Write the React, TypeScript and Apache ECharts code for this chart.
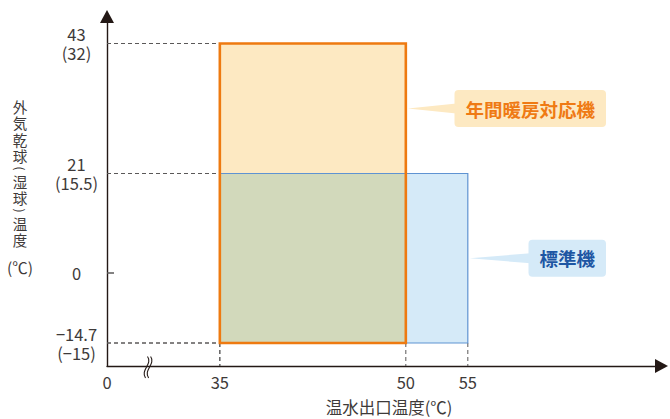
import React, { useEffect, useRef } from 'react';
import * as echarts from 'echarts';

// ---- data ----
const seriesNames = ['標準機', '年間暖房対応機'];
const xStart = [35, 35];
const xEnd = [55, 50];
const yLow = [-14.7, -14.7];
const yHigh = [21, 43];
const xTicks = [0, 35, 50, 55];
const xTickLabels = ['0', '35', '50', '55'];
const yTicks = [-14.7, 0, 21, 43];
const yTickLabels = ['−14.7\n(−15)', '0', '21\n(15.5)', '43\n(32)'];
const xAxisName = '温水出口温度(℃)';
const yAxisNameParts = ['外気乾球', '(', '湿球', ')', '温度'];
const yAxisUnit = '(℃)';

// ---- axis scales (schematic, piecewise) ----
const xScaleStops: [number, number][] = [[0, 25.9], [35, 35], [55, 55]];
const yScaleStops: [number, number][] = [[-14.7, 23], [0, 93], [21, 192.5], [43, 322.5]];
const X_MIN = 25.9;
const X_MAX = 70.62;
const Y_MIN = 0;
const Y_MAX = 349.5;

function warp(stops: [number, number][], v: number) {
  let i = 0;
  while (i < stops.length - 2 && v > stops[i + 1][0]) i++;
  const [a0, b0] = stops[i];
  const [a1, b1] = stops[i + 1];
  return b0 + ((v - a0) * (b1 - b0)) / (a1 - a0);
}
const wx = (v: number) => warp(xScaleStops, v);
const wy = (v: number) => warp(yScaleStops, v);

const FONT = "'Noto Sans CJK JP', 'Noto Sans', sans-serif";
const fills = ['#d5eaf8', '#fde9c2'];
const strokes = ['#5f93d2', '#ee7a10'];
const strokeWidths = [1.2, 2.6];
const textColors = ['#1d56a3', '#ef7a14'];
const overlapColor = '#d2d9bb';
const axisColor = '#231815';
const guideColor = '#5a5858';
const labelColor = '#3e3a39';

export default function App() {
  const ref = useRef<HTMLDivElement>(null);
  useEffect(() => {
    if (!ref.current) return;
    const chart = echarts.init(ref.current, undefined, { renderer: 'svg' });

    const rectData = seriesNames.map((_, i) => [wx(xStart[i]), wx(xEnd[i]), wy(yLow[i]), wy(yHigh[i]), i]);
    const ox0 = Math.max(...xStart), ox1 = Math.min(...xEnd);
    const oy0 = Math.max(...yLow), oy1 = Math.min(...yHigh);
    const overlapData = [[wx(ox0), wx(ox1), wy(oy0), wy(oy1)]];

    const calloutData = seriesNames.map((_, i) => {
      let lower = yLow[i];
      yHigh.forEach((h, j) => {
        if (j !== i && h < yHigh[i] && h > lower) lower = h;
      });
      return [wx(xEnd[i]), wy(lower), wy(yHigh[i]), i];
    });

    const rectRender = (mode: 'fill' | 'stroke' | 'overlap') => (params: any, api: any) => {
      const p0 = api.coord([api.value(0), api.value(2)]);
      const p1 = api.coord([api.value(1), api.value(3)]);
      const i = api.value(4);
      const shape = { x: p0[0], y: p1[1], width: p1[0] - p0[0], height: p0[1] - p1[1] };
      if (mode === 'overlap') return { type: 'rect', shape, style: { fill: overlapColor } };
      if (mode === 'fill') return { type: 'rect', shape, style: { fill: fills[i] } };
      return {
        type: 'rect',
        shape,
        z2: i,
        style: { fill: 'none', stroke: strokes[i], lineWidth: strokeWidths[i] },
      };
    };

    const guideRender = (params: any, api: any) => {
      const x0 = api.value(0), x1 = api.value(1), y0 = api.value(2), y1 = api.value(3);
      const axisX = api.coord([X_MIN, y0])[0];
      const axisY = api.coord([x0, Y_MIN])[1];
      const pTL = api.coord([x0, y1]);
      const pBL = api.coord([x0, y0]);
      const pBR = api.coord([x1, y0]);
      const ls = { stroke: guideColor, lineWidth: 1, lineDash: [4, 3] };
      return {
        type: 'group',
        children: [
          { type: 'line', shape: { x1: axisX, y1: pTL[1], x2: pTL[0], y2: pTL[1] }, style: ls },
          { type: 'line', shape: { x1: axisX, y1: pBL[1], x2: pBL[0], y2: pBL[1] }, style: ls },
          { type: 'line', shape: { x1: pBL[0], y1: pBL[1], x2: pBL[0], y2: axisY }, style: ls },
          { type: 'line', shape: { x1: pBR[0], y1: pBR[1], x2: pBR[0], y2: axisY }, style: ls },
        ],
      };
    };

    const calloutRender = (params: any, api: any) => {
      const i = api.value(3);
      const pLo = api.coord([api.value(0), api.value(1)]);
      const pHi = api.coord([api.value(0), api.value(2)]);
      const tipX = pLo[0] + 2;
      const tipY = (pLo[1] + pHi[1]) / 2;
      const fs = 18.5;
      const pad = 11;
      const name = seriesNames[i];
      const w = name.length * fs + pad * 2;
      const boxRight = 606;
      const boxLeft = boxRight - w;
      const h = 37;
      return {
        type: 'group',
        children: [
          {
            type: 'polygon',
            shape: { points: [[tipX, tipY], [boxLeft + 2, tipY - 5], [boxLeft + 2, tipY + 5]] },
            style: { fill: fills[i] },
          },
          {
            type: 'rect',
            shape: { x: boxLeft, y: tipY - h / 2, width: w, height: h, r: 4 },
            style: { fill: fills[i] },
          },
          {
            type: 'text',
            x: boxLeft + w / 2,
            y: tipY,
            style: {
              text: name,
              fill: textColors[i],
              font: `bold ${fs}px ${FONT}`,
              align: 'center',
              verticalAlign: 'middle',
            },
          },
        ],
      };
    };

    const yCustom = yTicks.map(wy);
    const xCustom = xTicks.map(wx);
    const findLabel = (vals: number[], labels: string[], v: number) => {
      const k = vals.findIndex((t) => Math.abs(t - v) < 1e-6);
      return k >= 0 ? labels[k] : '';
    };

    // vertical y-axis name: character blocks stacked; parentheses turned to vertical form
    const yNameEls: any[] = [];
    const rowH = 16.5;
    const parenH = 9;
    const nameFs = 14.5;
    let cy = 98;
    yAxisNameParts.forEach((part) => {
      const isParen = part === '(' || part === ')';
      if (isParen) {
        yNameEls.push({
          type: 'text',
          x: 20,
          y: cy + parenH / 2,
          rotation: -Math.PI / 2,
          style: {
            text: part,
            align: 'center',
            verticalAlign: 'middle',
            fill: labelColor,
            font: `12px ${FONT}`,
            lineHeight: 9,
          },
        });
        cy += parenH;
      } else {
        const chars = part.split('');
        yNameEls.push({
          type: 'text',
          x: 20,
          y: cy,
          style: {
            text: chars.map((c) => `{c|${c}}`).join('\n'),
            align: 'center',
            verticalAlign: 'top',
            fill: labelColor,
            font: `${nameFs}px ${FONT}`,
            rich: {
              c: { fontSize: nameFs, lineHeight: rowH, fontFamily: FONT, fill: labelColor },
            },
          },
        });
        cy += chars.length * rowH;
      }
    });

    chart.setOption({
      animation: false,
      grid: { left: 107, right: 8.5, top: 16.5, bottom: 53, containLabel: false },
      xAxis: {
        type: 'value',
        min: X_MIN,
        max: X_MAX,
        splitLine: { show: false },
        axisLine: {
          show: true,
          symbol: ['none', 'triangle'],
          symbolSize: [14, 13],
          lineStyle: { color: axisColor, width: 1.4 },
        },
        axisTick: { show: false },
        axisLabel: {
          customValues: xCustom,
          formatter: (v: number) => findLabel(xCustom, xTickLabels, v),
          color: labelColor,
          fontSize: 16.5,
          fontFamily: FONT,
          margin: 8,
        },
      },
      yAxis: {
        type: 'value',
        min: Y_MIN,
        max: Y_MAX,
        splitLine: { show: false },
        axisLine: {
          show: true,
          symbol: ['none', 'triangle'],
          symbolSize: [14, 13],
          lineStyle: { color: axisColor, width: 1.4 },
        },
        axisTick: {
          show: true,
          inside: true,
          length: 7,
          customValues: [wy(0)],
          lineStyle: { color: guideColor, width: 1.5 },
        },
        axisLabel: {
          customValues: yCustom,
          formatter: (v: number) => findLabel(yCustom, yTickLabels, v),
          color: labelColor,
          fontSize: 16.5,
          lineHeight: 19,
          fontFamily: FONT,
          margin: 30.5,
          align: 'center',
        },
      },
      graphic: [
        ...yNameEls,
        {
          type: 'text',
          x: 20,
          y: 267,
          style: {
            text: yAxisUnit,
            align: 'center',
            verticalAlign: 'middle',
            fill: labelColor,
            font: `15.5px ${FONT}`,
          },
        },
        {
          type: 'text',
          x: 389,
          y: 407,
          style: {
            text: xAxisName,
            align: 'center',
            verticalAlign: 'middle',
            fill: labelColor,
            font: `16.5px ${FONT}`,
            lineHeight: 16.5,
          },
        },
        {
          type: 'group',
          z: 10,
          children: [
            {
              type: 'polygon',
              shape: { points: [[147.2, 362], [150.3, 362], [149.6, 370], [146.5, 370]] },
              style: { fill: '#ffffff' },
            },
            {
              type: 'bezierCurve',
              shape: { x1: 147.5, y1: 356.5, cpx1: 153, cpy1: 364, cpx2: 140, cpy2: 370, x2: 145.5, y2: 378 },
              style: { stroke: axisColor, lineWidth: 1.1, fill: 'none' },
            },
            {
              type: 'bezierCurve',
              shape: { x1: 150.6, y1: 356.5, cpx1: 156, cpy1: 364, cpx2: 143, cpy2: 370, x2: 148.6, y2: 378 },
              style: { stroke: axisColor, lineWidth: 1.1, fill: 'none' },
            },
          ],
        },
      ],
      series: [
        {
          type: 'custom',
          name: 'fill',
          z: 2,
          coordinateSystem: 'cartesian2d',
          data: rectData,
          encode: { x: [0, 1], y: [2, 3] },
          renderItem: rectRender('fill'),
        },
        {
          type: 'custom',
          name: 'overlap',
          z: 3,
          coordinateSystem: 'cartesian2d',
          data: overlapData,
          encode: { x: [0, 1], y: [2, 3] },
          renderItem: rectRender('overlap'),
        },
        {
          type: 'custom',
          name: 'guides',
          z: 4,
          coordinateSystem: 'cartesian2d',
          data: rectData,
          encode: { x: [0, 1], y: [2, 3] },
          renderItem: guideRender,
        },
        {
          type: 'custom',
          name: 'border',
          z: 5,
          coordinateSystem: 'cartesian2d',
          data: rectData,
          encode: { x: [0, 1], y: [2, 3] },
          renderItem: rectRender('stroke'),
        },
        {
          type: 'custom',
          name: 'callout',
          z: 6,
          coordinateSystem: 'cartesian2d',
          data: calloutData,
          encode: { x: 0, y: [1, 2] },
          renderItem: calloutRender,
        },
      ],
    });
    return () => chart.dispose();
  }, []);
  return <div ref={ref} style={{ position: 'fixed', left: 0, top: 0, width: 670, height: 419, background: '#fff' }} />;
}
